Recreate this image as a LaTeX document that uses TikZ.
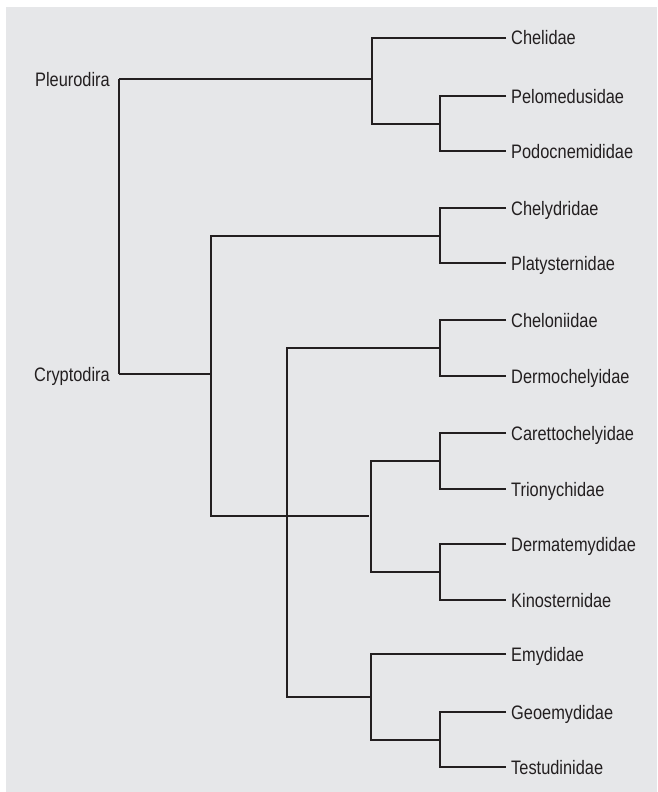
\documentclass[tikz,border=0pt]{standalone}
\usepackage{fontspec}
\setmainfont{Liberation Sans}[FakeStretch=0.84]
\definecolor{bggray}{HTML}{E6E7E9}
\definecolor{branch}{HTML}{231F20}
\begin{document}
\begin{tikzpicture}[x = 1pt, y = -1pt,
		taxon/.style = {anchor = west, inner xsep = 5pt, inner ysep = 0pt,
						text height = 14pt, text depth = 0pt,
						font = \fontsize{19.5}{22}\selectfont, text = branch},
		group/.style = {taxon, anchor = east, inner xsep = 9pt},
		branch/.style = {draw = branch, line width = 1.2pt}
	]
	\useasboundingbox (0, 0) rectangle (657, 792);
	\fill[bggray] (6, 7) rectangle (657, 792);

	% the two suborders
	\draw (119, 79) node[group](Pleurodira){Pleurodira};
	\draw (119, 374) node[group](Cryptodira){Cryptodira};

	% families
	\draw (506, 38) node[taxon](Chelidae){Chelidae};
	\draw (506, 96) node[taxon](Pelomedusidae){Pelomedusidae};
	\draw (506, 151) node[taxon](Podocnemididae){Podocnemididae};
	\draw (506, 208) node[taxon](Chelydridae){Chelydridae};
	\draw (506, 263) node[taxon](Platysternidae){Platysternidae};
	\draw (506, 320) node[taxon](Cheloniidae){Cheloniidae};
	\draw (506, 376) node[taxon](Dermochelyidae){Dermochelyidae};
	\draw (506, 433) node[taxon](Carettochelyidae){Carettochelyidae};
	\draw (506, 489) node[taxon](Trionychidae){Trionychidae};
	\draw (506, 544) node[taxon](Dermatemydidae){Dermatemydidae};
	\draw (506, 600) node[taxon](Kinosternidae){Kinosternidae};
	\draw (506, 654) node[taxon](Emydidae){Emydidae};
	\draw (506, 712) node[taxon](Geoemydidae){Geoemydidae};
	\draw (506, 767) node[taxon](Testudinidae){Testudinidae};

	% inner forks
	\coordinate (pleuro) at (372, 79);
	\coordinate (pelo) at (440, 124);
	\coordinate (crypto) at (211, 374);
	\coordinate (chely) at (440, 236);
	\coordinate (chelo) at (440, 348);
	\coordinate (sea) at (287, 348);
	\coordinate (trio) at (440, 461);
	\coordinate (kino) at (440, 572);
	\coordinate (softshell) at (371, 516);
	\coordinate (testu) at (440, 740);
	\coordinate (emy) at (371, 697);

	\draw[branch] (Pleurodira.east) -- (Cryptodira.east);
	\draw[branch] (Pleurodira.east) -- (pleuro);
	\draw[branch] (Cryptodira.east) -- (crypto);

	\draw[branch] (Chelidae.west) -| (pelo -| pleuro) -- (pelo);
	\draw[branch] (Pelomedusidae.west) -| (pelo) |- (Podocnemididae.west);

	\draw[branch] (chely) -| (crypto) |- ([xshift = -2pt]softshell);
	\draw[branch] (Chelydridae.west) -| (chely) |- (Platysternidae.west);

	\draw[branch] (chelo) -- (sea) |- (emy);
	\draw[branch] (Cheloniidae.west) -| (chelo) |- (Dermochelyidae.west);

	\draw[branch] (trio) -| (softshell) |- (kino);
	\draw[branch] (Carettochelyidae.west) -| (trio) |- (Trionychidae.west);
	\draw[branch] (Dermatemydidae.west) -| (kino) |- (Kinosternidae.west);

	\draw[branch] (Emydidae.west) -| (emy) |- (testu);
	\draw[branch] (Geoemydidae.west) -| (testu) |- (Testudinidae.west);
\end{tikzpicture}
\end{document}
